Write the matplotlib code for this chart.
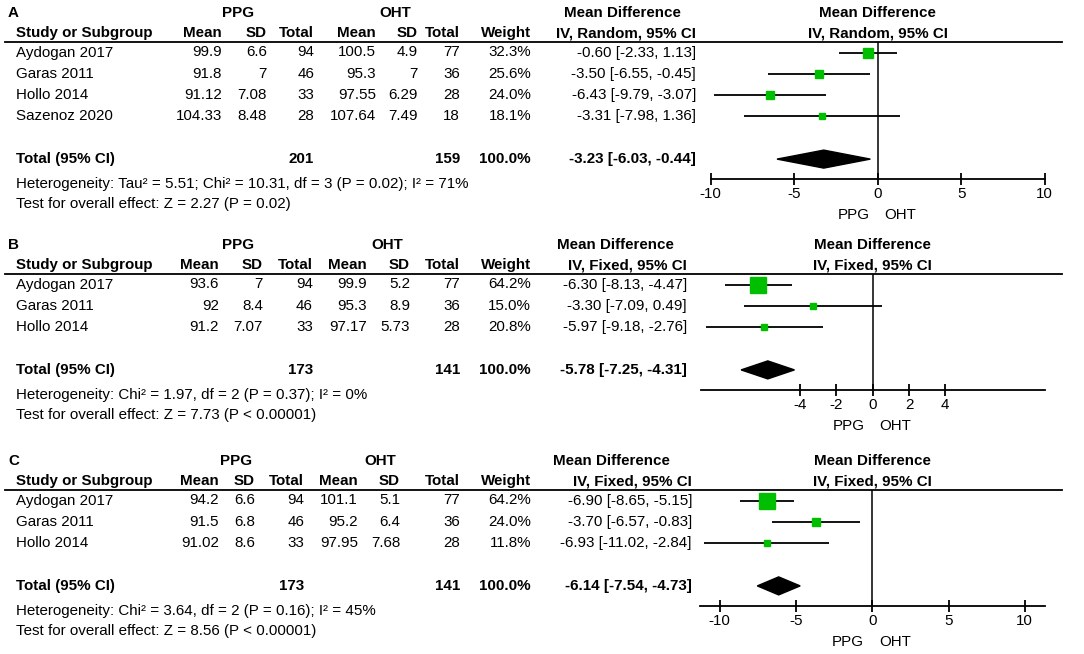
import numpy as np
import matplotlib.pyplot as plt
from matplotlib.lines import Line2D
from matplotlib.patches import Polygon

plt.rcParams['font.family'] = ['Liberation Sans', 'DejaVu Sans']

# %% data -------------------------------------------------------------
# panel A (random effects)
studies_a = ['Aydogan 2017', 'Garas 2011', 'Hollo 2014', 'Sazenoz 2020']
ppg_mean_a = [99.9, 91.8, 91.12, 104.33]
ppg_sd_a = [6.6, 7, 7.08, 8.48]
ppg_n_a = [94, 46, 33, 28]
oht_mean_a = [100.5, 95.3, 97.55, 107.64]
oht_sd_a = [4.9, 7, 6.29, 7.49]
oht_n_a = [77, 36, 28, 18]
weight_a = [32.3, 25.6, 24.0, 18.1]
md_a = [-0.60, -3.50, -6.43, -3.31]
lo_a = [-2.33, -6.55, -9.79, -7.98]
hi_a = [1.13, -0.45, -3.07, 1.36]
pooled_a = [-3.23, -6.03, -0.44]
totals_a = [201, 159]
het_a = 'Heterogeneity: Tau\u00b2 = 5.51; Chi\u00b2 = 10.31, df = 3 (P = 0.02); I\u00b2 = 71%'
test_a = 'Test for overall effect: Z = 2.27 (P = 0.02)'
ticks_a = [-10, -5, 0, 5, 10]

# panel B (fixed effects)
studies_b = ['Aydogan 2017', 'Garas 2011', 'Hollo 2014']
ppg_mean_b = [93.6, 92, 91.2]
ppg_sd_b = [7, 8.4, 7.07]
ppg_n_b = [94, 46, 33]
oht_mean_b = [99.9, 95.3, 97.17]
oht_sd_b = [5.2, 8.9, 5.73]
oht_n_b = [77, 36, 28]
weight_b = [64.2, 15.0, 20.8]
md_b = [-6.30, -3.30, -5.97]
lo_b = [-8.13, -7.09, -9.18]
hi_b = [-4.47, 0.49, -2.76]
pooled_b = [-5.78, -7.25, -4.31]
totals_b = [173, 141]
het_b = 'Heterogeneity: Chi\u00b2 = 1.97, df = 2 (P = 0.37); I\u00b2 = 0%'
test_b = 'Test for overall effect: Z = 7.73 (P < 0.00001)'
ticks_b = [-4, -2, 0, 2, 4]

# panel C (fixed effects)
studies_c = ['Aydogan 2017', 'Garas 2011', 'Hollo 2014']
ppg_mean_c = [94.2, 91.5, 91.02]
ppg_sd_c = [6.6, 6.8, 8.6]
ppg_n_c = [94, 46, 33]
oht_mean_c = [101.1, 95.2, 97.95]
oht_sd_c = [5.1, 6.4, 7.68]
oht_n_c = [77, 36, 28]
weight_c = [64.2, 24.0, 11.8]
md_c = [-6.90, -3.70, -6.93]
lo_c = [-8.65, -6.57, -11.02]
hi_c = [-5.15, -0.83, -2.84]
pooled_c = [-6.14, -7.54, -4.73]
totals_c = [173, 141]
het_c = 'Heterogeneity: Chi\u00b2 = 3.64, df = 2 (P = 0.16); I\u00b2 = 45%'
test_c = 'Test for overall effect: Z = 8.56 (P < 0.00001)'
ticks_c = [-10, -5, 0, 5, 10]

# %% layout -----------------------------------------------------------
W, H = 1084, 654
FS = 10.9
GREEN = '#00bf00'
ROW = 21.2

fig = plt.figure(figsize=(W / 100, H / 100), dpi=100)


def fx(x):
    return x / W


def fy(y):
    return 1 - y / H


def txt(x, y, s, ha='left', bold=False):
    fig.text(fx(x), fy(y), s, ha=ha, va='center', fontsize=FS,
             fontweight='bold' if bold else 'normal')


panels = [
    {
        'letter': 'A', 'model': 'IV, Random, 95% CI', 'line_y': 42,
        'studies': studies_a, 'ppg_mean': ppg_mean_a, 'ppg_sd': ppg_sd_a,
        'ppg_n': ppg_n_a, 'oht_mean': oht_mean_a, 'oht_sd': oht_sd_a,
        'oht_n': oht_n_a, 'weight': weight_a, 'md': md_a, 'lo': lo_a,
        'hi': hi_a, 'pooled': pooled_a, 'totals': totals_a,
        'het': het_a, 'test': test_a, 'ticks': ticks_a,
        'cols': [222, 267, 314, 376, 418, 460, 531], 'ppg_x': 238, 'oht_x': 395,
        'md_x': 696, 'mdh_x': 622,
        'zero_px': 877.7, 'scale': 16.7, 'bounds': (-10, 10),
    },
    {
        'letter': 'B', 'model': 'IV, Fixed, 95% CI', 'line_y': 274,
        'studies': studies_b, 'ppg_mean': ppg_mean_b, 'ppg_sd': ppg_sd_b,
        'ppg_n': ppg_n_b, 'oht_mean': oht_mean_b, 'oht_sd': oht_sd_b,
        'oht_n': oht_n_b, 'weight': weight_b, 'md': md_b, 'lo': lo_b,
        'hi': hi_b, 'pooled': pooled_b, 'totals': totals_b,
        'het': het_b, 'test': test_b, 'ticks': ticks_b,
        'cols': [219, 263, 313, 367, 410, 460, 531], 'ppg_x': 238, 'oht_x': 387,
        'md_x': 687, 'mdh_x': 615,
        'zero_px': 872.7, 'scale': 18.15, 'bounds': (-9.46, 9.49),
    },
    {
        'letter': 'C', 'model': 'IV, Fixed, 95% CI', 'line_y': 490,
        'studies': studies_c, 'ppg_mean': ppg_mean_c, 'ppg_sd': ppg_sd_c,
        'ppg_n': ppg_n_c, 'oht_mean': oht_mean_c, 'oht_sd': oht_sd_c,
        'oht_n': oht_n_c, 'weight': weight_c, 'md': md_c, 'lo': lo_c,
        'hi': hi_c, 'pooled': pooled_c, 'totals': totals_c,
        'het': het_c, 'test': test_c, 'ticks': ticks_c,
        'cols': [219, 255, 304, 358, 400, 460, 531], 'ppg_x': 236, 'oht_x': 380,
        'md_x': 692, 'mdh_x': 611,
        'zero_px': 872.3, 'scale': 15.25, 'bounds': (-11.3, 11.3),
    },
]

for p in panels:
    ly = p['line_y']
    n = len(p['studies'])
    rows_px = [ly + 10.5 + ROW * i for i in range(n)]
    total_px = rows_px[-1] + 43
    axis_px = total_px + 20
    c = p['cols']

    # ----- header -----
    txt(8, ly - 29, p['letter'], bold=True)
    txt(p['ppg_x'], ly - 29, 'PPG', ha='center', bold=True)
    txt(p['oht_x'], ly - 29, 'OHT', ha='center', bold=True)
    txt(p['mdh_x'], ly - 29, 'Mean Difference', ha='center', bold=True)
    txt(16, ly - 9, 'Study or Subgroup', bold=True)
    for x, s in zip(c, ['Mean', 'SD', 'Total', 'Mean', 'SD', 'Total', 'Weight']):
        txt(x, ly - 9, s, ha='right', bold=True)
    txt(p['md_x'], ly - 9, p['model'], ha='right', bold=True)
    fig.add_artist(Line2D([fx(5), fx(1062)], [fy(ly), fy(ly)], color='black', lw=1.3))

    # ----- study rows -----
    for i, y in enumerate(rows_px):
        txt(16, y, p['studies'][i])
        vals = [f"{p['ppg_mean'][i]:g}", f"{p['ppg_sd'][i]:g}", f"{p['ppg_n'][i]}",
                f"{p['oht_mean'][i]:g}", f"{p['oht_sd'][i]:g}", f"{p['oht_n'][i]}",
                f"{p['weight'][i]:.1f}%"]
        for x, s in zip(c, vals):
            txt(x, y, s, ha='right')
        txt(p['md_x'], y,
            f"{p['md'][i]:.2f} [{p['lo'][i]:.2f}, {p['hi'][i]:.2f}]", ha='right')

    # ----- total rows -----
    txt(16, total_px, 'Total (95% CI)', bold=True)
    txt(c[2], total_px, str(p['totals'][0]), ha='right', bold=True)
    txt(c[5], total_px, str(p['totals'][1]), ha='right', bold=True)
    txt(c[6], total_px, '100.0%', ha='right', bold=True)
    pm, pl, ph = p['pooled']
    txt(p['md_x'], total_px, f"{pm:.2f} [{pl:.2f}, {ph:.2f}]", ha='right', bold=True)
    txt(16, total_px + 25, p['het'])
    txt(16, total_px + 45, p['test'])

    # ----- forest axes -----
    x0, x1 = 690, 1075
    ax = fig.add_axes([fx(x0), fy(axis_px), fx(x1 - x0), (axis_px - ly) / H])
    ax.set_xlim((x0 - p['zero_px']) / p['scale'], (x1 - p['zero_px']) / p['scale'])
    y_top = -10.5 / ROW
    y_total = (total_px - ly - 10.5) / ROW
    y_bot = (axis_px - ly - 10.5) / ROW
    ax.set_ylim(y_bot, y_top)
    ax.patch.set_alpha(0)

    ax.axvline(0, color='black', lw=1.1)
    idx = np.arange(n)
    ax.hlines(idx, p['lo'], p['hi'], color='black', lw=1.3)
    for i in range(n):
        side = (3 + 0.19 * p['weight'][i]) * 0.72
        ax.plot(p['md'][i], i, marker='s', ms=side, color=GREEN, mec=GREEN)
    h = 9 / ROW
    ax.add_patch(Polygon([[pl, y_total], [pm, y_total - h], [ph, y_total],
                          [pm, y_total + h]], closed=True, color='black'))

    for side_name in ['top', 'left', 'right']:
        ax.spines[side_name].set_visible(False)
    ax.spines['bottom'].set_bounds(*p['bounds'])
    ax.spines['bottom'].set_linewidth(1.3)
    ax.set_yticks([])
    ax.set_xticks(p['ticks'])
    ax.set_xticklabels([f'{t:g}' for t in p['ticks']], fontsize=FS)
    ax.tick_params(axis='x', direction='inout', length=9, width=1.3, pad=1)

    ax.annotate('PPG', xy=(0, 0), xycoords=('data', 'axes fraction'),
                xytext=(-6, -36 * 0.72), textcoords='offset points',
                ha='right', va='center', fontsize=FS)
    ax.annotate('OHT', xy=(0, 0), xycoords=('data', 'axes fraction'),
                xytext=(5, -36 * 0.72), textcoords='offset points',
                ha='left', va='center', fontsize=FS)
    ax.annotate('Mean Difference', xy=(0, 1), xycoords=('data', 'axes fraction'),
                xytext=(0, 29 * 0.72), textcoords='offset points',
                ha='center', va='center', fontsize=FS, fontweight='bold')
    ax.annotate(p['model'], xy=(0, 1), xycoords=('data', 'axes fraction'),
                xytext=(0, 9 * 0.72), textcoords='offset points',
                ha='center', va='center', fontsize=FS, fontweight='bold')

fig.savefig('out.png', dpi=100, facecolor='white')
